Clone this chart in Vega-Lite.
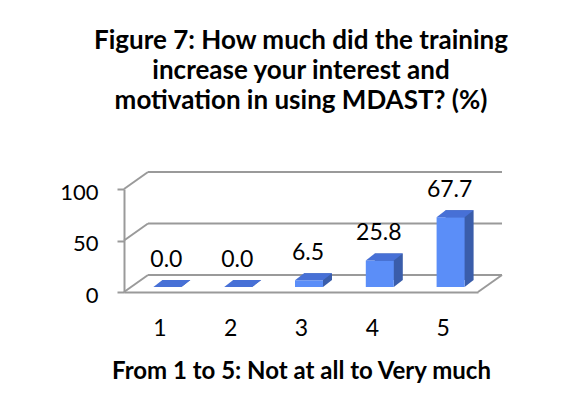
{
  "$schema": "https://vega.github.io/schema/vega-lite/v6.json",
  "autosize": {"type": "none"},
  "width": 354,
  "height": 103,
  "padding": {"left": 124, "top": 189, "right": 88, "bottom": 126},
  "background": "white",
  "config": {
    "view": {"stroke": null},
    "font": "Lato",
    "axis": {"labelFont": "Lato", "titleFont": "Lato"},
    "scale": {"continuousPadding": 0}
  },
  "title": {
    "text": ["Figure 7: How much did the training", "increase your interest and", "motivation in using MDAST? (%)"],
    "font": "Lato",
    "fontSize": 26,
    "fontWeight": "bold",
    "color": "black",
    "lineHeight": 30,
    "anchor": "middle",
    "offset": 57
  },
  "datasets": {
    "bars": [
      {"score": 1, "pct": 0.0, "label": "0.0"},
      {"score": 2, "pct": 0.0, "label": "0.0"},
      {"score": 3, "pct": 6.5, "label": "6.5"},
      {"score": 4, "pct": 25.8, "label": "25.8"},
      {"score": 5, "pct": 67.7, "label": "67.7"}
    ],
    "grid": [{"v": 0}, {"v": 50}, {"v": 100}]
  },
  "layer": [
    {
      "data": {"name": "grid"},
      "mark": {"type": "rule", "color": "#9a9a9a", "strokeWidth": 2, "xOffset": 24, "x2Offset": 24, "yOffset": -17, "y2Offset": -17},
      "encoding": {
        "x": {"datum": 0.5, "type": "quantitative", "scale": {"domain": [0.5, 5.5], "nice": false, "zero": false, "padding": 0}},
        "x2": {"datum": 5.5},
        "y": {"field": "v", "type": "quantitative", "scale": {"domain": [0, 100], "nice": false}}
      }
    },
    {
      "data": {"name": "grid"},
      "mark": {"type": "rule", "color": "#9a9a9a", "strokeWidth": 2, "x2Offset": 24, "y2Offset": -17},
      "encoding": {
        "x": {"datum": 0.5, "type": "quantitative"},
        "x2": {"datum": 0.5},
        "y": {"field": "v", "type": "quantitative"},
        "y2": {"field": "v"}
      }
    },
    {
      "data": {"values": [{"v": 0}]},
      "mark": {"type": "rule", "color": "#9a9a9a", "strokeWidth": 2, "x2Offset": 24, "y2Offset": -17},
      "encoding": {
        "x": {"datum": 5.5, "type": "quantitative"},
        "x2": {"datum": 5.5},
        "y": {"field": "v", "type": "quantitative"},
        "y2": {"field": "v"}
      }
    },
    {
      "data": {"name": "bars"},
      "mark": {"type": "bar", "width": 28, "color": "#3a5daa", "xOffset": 17, "x2Offset": 17, "yOffset": -12, "y2Offset": -12},
      "encoding": {
        "x": {"field": "score", "type": "quantitative"},
        "y": {"field": "pct", "type": "quantitative"},
        "y2": {"datum": 0}
      }
    },
    {
      "data": {"name": "bars"},
      "mark": {"type": "point", "filled": true, "opacity": 1, "size": 2500, "color": "#3a5daa", "strokeWidth": 0, "xOffset": 8, "yOffset": -5,
        "shape": "M0.56,0 L0.92,-0.28 L0.56,-0.28 Z"},
      "encoding": {
        "x": {"field": "score", "type": "quantitative"},
        "y": {"datum": 0, "type": "quantitative"}
      }
    },
    {
      "data": {"name": "bars"},
      "mark": {"type": "bar", "width": 28, "color": "#5b8ef8", "xOffset": 8, "x2Offset": 8, "yOffset": -5, "y2Offset": -5},
      "encoding": {
        "x": {"field": "score", "type": "quantitative",
          "axis": {"values": [1, 2, 3, 4, 5], "format": "d", "grid": false, "ticks": false, "domainColor": "#9a9a9a", "domainWidth": 2,
            "labelFontSize": 23, "labelColor": "black", "labelPadding": 25,
            "title": "From 1 to 5: Not at all to Very much", "titleFontSize": 24, "titleFontWeight": "bold", "titleColor": "black", "titlePadding": 19}},
        "y": {"field": "pct", "type": "quantitative",
          "axis": {"values": [0, 50, 100], "grid": false, "title": null, "domainColor": "#9a9a9a", "domainWidth": 2,
            "tickColor": "#9a9a9a", "tickWidth": 2, "tickSize": 7, "labelFontSize": 22, "labelColor": "black", "labelPadding": 19, "labelBaseline": "middle", "labelOffset": 3}},
        "y2": {"datum": 0}
      }
    },
    {
      "data": {"name": "bars"},
      "mark": {"type": "point", "filled": true, "opacity": 1, "size": 2500, "color": "#4770d6", "strokeWidth": 0, "xOffset": 8, "yOffset": -5,
        "shape": "M-0.56,0 L0.56,0 L0.92,-0.28 L-0.2,-0.28 Z"},
      "encoding": {
        "x": {"field": "score", "type": "quantitative"},
        "y": {"field": "pct", "type": "quantitative"}
      }
    },
    {
      "data": {"name": "bars"},
      "mark": {"type": "text", "fontSize": 23, "color": "black", "baseline": "middle", "dx": 7, "dy": -32},
      "encoding": {
        "x": {"field": "score", "type": "quantitative"},
        "y": {"field": "pct", "type": "quantitative"},
        "text": {"field": "label"}
      }
    }
  ]
}
